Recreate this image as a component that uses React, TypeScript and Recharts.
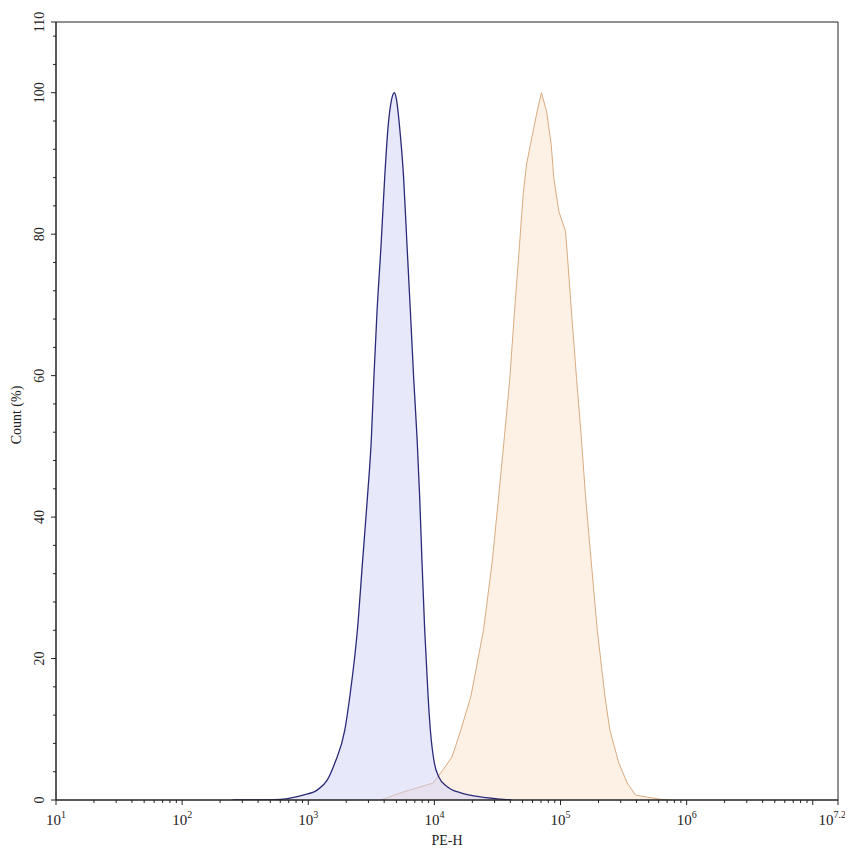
import React from 'react';
import { ComposedChart, Area, XAxis, YAxis, ReferenceLine } from 'recharts';

// log10(PE-H) positions and Count (%) values
const blueX = [2.4, 2.6, 2.78, 2.96, 3.07, 3.15, 3.21, 3.29, 3.33, 3.39, 3.43, 3.47, 3.5, 3.52, 3.545, 3.577, 3.606, 3.632, 3.66, 3.683, 3.7, 3.725, 3.756, 3.783, 3.81, 3.836, 3.863, 3.883, 3.902, 3.923, 3.95, 3.968, 4.0, 4.034, 4.1, 4.21, 4.34, 4.61];
const blueY = [0, 0, 0.1, 0.7, 1.4, 2.8, 5.2, 9.9, 14.7, 24.1, 33.6, 43, 51, 59.6, 69, 78.4, 88, 95, 99, 100, 99, 95, 88, 78.4, 69, 59.6, 51, 43, 33.6, 24.1, 14.7, 9.9, 5.2, 3.3, 1.9, 1.0, 0.5, 0];

const orangeX = [3.57, 3.625, 3.73, 3.86, 3.99, 4.07, 4.14, 4.21, 4.29, 4.39, 4.458, 4.51, 4.556, 4.598, 4.635, 4.675, 4.704, 4.73, 4.762, 4.815, 4.849, 4.889, 4.926, 4.947, 4.987, 5.04, 5.058, 5.087, 5.127, 5.164, 5.198, 5.244, 5.291, 5.352, 5.391, 5.463, 5.529, 5.595, 5.688, 5.794, 5.873];
const orangeY = [0, 0.3, 1.0, 1.7, 2.4, 4.3, 6.1, 9.9, 14.7, 24.1, 33.6, 43, 51.5, 59.6, 69, 78.5, 85.6, 89.8, 92.7, 97.4, 100, 97.4, 92.7, 87.9, 83.2, 80.4, 76.1, 69, 59.6, 51.5, 43, 33.6, 24.1, 14.7, 9.9, 5.2, 2.4, 0.7, 0.4, 0.1, 0];

const xMajorTicks = [1, 2, 3, 4, 5, 6, 7, 7.2];
const xMajorLabels = ['1', '2', '3', '4', '5', '6', '', '7.2'];
const xMinorMultipliers = [2, 3, 4, 5, 6, 7, 8, 9];
const yMajorTicks = [0, 20, 40, 60, 80, 100, 110];
const yMinorTicks = [4, 8, 12, 16, 24, 28, 32, 36, 44, 48, 52, 56, 64, 68, 72, 76, 84, 88, 92, 96, 104, 108];

const xDomain: [number, number] = [1, 7.2];
const yDomain: [number, number] = [0, 110];

const xMinorTicks: number[] = [];
for (let d = 1; d < 7.2; d++) {
  for (const m of xMinorMultipliers) {
    const v = d + Math.log10(m);
    if (v < 7.2) xMinorTicks.push(v);
  }
}
const xTicks = [...xMajorTicks, ...xMinorTicks].sort((a, b) => a - b);
const yTicks = [...yMajorTicks, ...yMinorTicks].sort((a, b) => a - b);

// merged table
const xsAll = Array.from(new Set([...blueX, ...orangeX])).sort((a, b) => a - b);
const table = xsAll.map((x) => {
  const bi = blueX.indexOf(x);
  const oi = orangeX.indexOf(x);
  return {
    x,
    blue: bi >= 0 ? blueY[bi] : null,
    orange: oi >= 0 ? orangeY[oi] : null,
  };
});

const FONT = '"Liberation Serif", "Times New Roman", serif';
const AXIS = '#222';

const XTick = (props: any) => {
  const { x, y, payload } = props;
  const v = payload.value as number;
  const mi = xMajorTicks.findIndex((t) => Math.abs(t - v) < 1e-9);
  const major = mi >= 0;
  const label = major ? xMajorLabels[mi] : '';
  const isLast = mi === xMajorTicks.length - 1;
  return (
    <g>
      <line x1={x} x2={x} y1={y} y2={y + (major ? 5 : 3)} stroke={AXIS} strokeWidth={1} />
      {label !== '' && (
        <text
          x={isLast ? x + 8 : x}
          y={y + 25}
          textAnchor={isLast ? 'end' : 'middle'}
          fontFamily={FONT}
          fontSize={15}
          fill="#222"
        >
          <tspan>10</tspan>
          <tspan dy={-7} fontSize={10}>{label}</tspan>
        </text>
      )}
    </g>
  );
};

const YTick = (props: any) => {
  const { x, y, payload } = props;
  const v = payload.value as number;
  const major = yMajorTicks.includes(v);
  return (
    <g>
      <line x1={x - (major ? 5 : 3)} x2={x} y1={y} y2={y} stroke={AXIS} strokeWidth={1} />
      {major && (
        <text
          transform={`translate(${x - 17},${y}) rotate(-90)`}
          textAnchor="middle"
          dominantBaseline="central"
          fontFamily={FONT}
          fontSize={14}
          fill="#222"
        >
          {v}
        </text>
      )}
    </g>
  );
};

const YLabel = (props: any) => {
  const { viewBox } = props;
  const { x, y, height } = viewBox;
  return (
    <text
      transform={`translate(${x + 8},${y + height / 2 + 4}) rotate(-90)`}
      textAnchor="middle"
      dominantBaseline="central"
      fontFamily={FONT}
      fontSize={14}
      fill="#222"
    >
      Count (%)
    </text>
  );
};

const XLabel = (props: any) => {
  const { viewBox } = props;
  const { x, y, width, height } = viewBox;
  return (
    <text x={x + width / 2} y={y + height - 3} textAnchor="middle" fontFamily={FONT} fontSize={14} fill="#222">
      PE-H
    </text>
  );
};

export default function App() {
  return (
    <div style={{ width: 837, height: 840, background: '#fff' }}>
      <ComposedChart
        width={837}
        height={840}
        data={table}
        margin={{ top: 14, right: 7, bottom: 0, left: 0 }}
        style={{ overflow: 'visible' }}
      >
        <XAxis
          dataKey="x"
          type="number"
          domain={xDomain}
          ticks={xTicks}
          interval={0}
          allowDataOverflow
          tick={<XTick />}
          tickSize={0}
          tickMargin={0}
          tickLine={false}
          height={48}
          stroke={AXIS}
          strokeWidth={1.5}
          label={<XLabel />}
        />
        <YAxis
          type="number"
          domain={yDomain}
          ticks={yTicks}
          interval={0}
          allowDataOverflow
          tick={<YTick />}
          tickSize={0}
          tickMargin={0}
          tickLine={false}
          width={48}
          stroke={AXIS}
          strokeWidth={1.5}
          label={<YLabel />}
        />
        <ReferenceLine y={110} stroke={AXIS} strokeWidth={1} />
        <ReferenceLine x={7.2} stroke={AXIS} strokeWidth={1} />
        <Area
          dataKey="orange"
          type="linear"
          connectNulls
          stroke="#d9ab80"
          strokeWidth={1}
          fill="#fbe4cd"
          fillOpacity={0.5}
          isAnimationActive={false}
          dot={false}
          activeDot={false}
        />
        <Area
          dataKey="blue"
          type="monotone"
          connectNulls
          stroke="#2a2a78"
          strokeWidth={1.3}
          fill="#d2d2f8"
          fillOpacity={0.5}
          isAnimationActive={false}
          dot={false}
          activeDot={false}
        />
      </ComposedChart>
    </div>
  );
}
